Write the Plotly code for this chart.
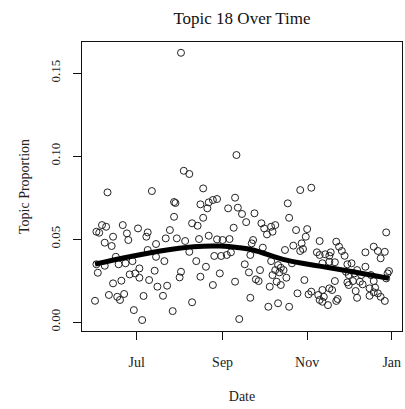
import pandas as pd
import plotly.graph_objects as go

# Day offsets since 1 June (each point = one observation) and topic proportion
day_offset = [
    9, 41, 1, 5, 8, 3, 7, 12, 13, 20, 23, 24, 31, 38, 37, 44, 1, 2, 7, 17, 22, 27, 32, 38, 44, 15,
    13, 19, 25, 29, 32, 43, 39, 45, 0, 10, 16, 21, 18, 35, 28, 34,
    62, 64, 68, 102, 78, 57, 58, 76, 82, 85, 88, 81, 96, 101, 103, 57, 78, 70, 74, 100, 54, 51,
    59, 65, 75, 82, 88, 92, 97, 68, 86, 91, 95, 98, 50, 73, 80, 62, 61, 76, 90, 52, 85, 101, 49,
    70, 56, 104,
    148, 156, 139, 106, 109, 115, 140, 120, 122, 127, 130, 124, 128, 145, 153, 152, 114, 113, 121,
    137, 143, 149, 150, 148, 160, 112, 108, 127, 132, 134, 133, 136, 130, 142, 119, 111, 116, 118,
    128, 138, 131, 126, 134, 151, 146, 154, 156, 161, 112, 125, 132, 140,
    210, 162, 174, 176, 195, 201, 204, 209, 206, 162, 166, 170, 169, 178, 180, 173, 169, 164, 182,
    185, 195, 189, 212, 181, 183, 187, 192, 199, 173, 182, 186, 191, 193, 201, 210, 211, 169, 171,
    164, 183, 198, 202, 201, 204, 188, 165, 162, 175, 174, 189, 168, 164, 198, 206, 209,
]
proportion = [
    0.0781, 0.0789, 0.0544, 0.0584, 0.0574, 0.0538, 0.0478, 0.0458, 0.0514, 0.0584, 0.0534, 0.0494,
    0.0564, 0.0540, 0.0514, 0.0470, 0.0348, 0.0297, 0.0339, 0.0348, 0.0354, 0.0367, 0.0323, 0.0434,
    0.0393, 0.0393, 0.0233, 0.0249, 0.0287, 0.0293, 0.0267, 0.0309, 0.0253, 0.0213, 0.0128, 0.0163,
    0.0152, 0.0169, 0.0133, 0.0157, 0.0072, 0.0012,
    0.1622, 0.0911, 0.0892, 0.1006, 0.0805, 0.0723, 0.0717, 0.0709, 0.0721, 0.0735, 0.0741, 0.0685,
    0.0685, 0.0749, 0.0689, 0.0634, 0.0628, 0.0595, 0.0580, 0.0568, 0.0554, 0.0504, 0.0504, 0.0488,
    0.0500, 0.0520, 0.0498, 0.0494, 0.0500, 0.0423, 0.0398, 0.0398, 0.0404, 0.0420, 0.0367, 0.0367,
    0.0333, 0.0303, 0.0269, 0.0273, 0.0293, 0.0219, 0.0223, 0.0243, 0.0158, 0.0119, 0.0066, 0.0018,
    0.0795, 0.0809, 0.0715, 0.0651, 0.0602, 0.0655, 0.0628, 0.0595, 0.0564, 0.0574, 0.0584, 0.0528,
    0.0544, 0.0554, 0.0560, 0.0514, 0.0494, 0.0474, 0.0448, 0.0434, 0.0460, 0.0474, 0.0440, 0.0428,
    0.0420, 0.0404, 0.0348, 0.0367, 0.0343, 0.0327, 0.0299, 0.0313, 0.0313, 0.0354, 0.0313, 0.0299,
    0.0257, 0.0247, 0.0283, 0.0267, 0.0243, 0.0213, 0.0223, 0.0253, 0.0173, 0.0167, 0.0183, 0.0163,
    0.0146, 0.0092, 0.0113, 0.0092,
    0.0540, 0.0488, 0.0484, 0.0454, 0.0420, 0.0454, 0.0428, 0.0423, 0.0384, 0.0404, 0.0408, 0.0420,
    0.0399, 0.0428, 0.0399, 0.0360, 0.0363, 0.0354, 0.0348, 0.0354, 0.0333, 0.0313, 0.0307, 0.0303,
    0.0283, 0.0293, 0.0283, 0.0283, 0.0247, 0.0239, 0.0247, 0.0243, 0.0227, 0.0247, 0.0263, 0.0293,
    0.0203, 0.0193, 0.0193, 0.0223, 0.0203, 0.0207, 0.0179, 0.0173, 0.0187, 0.0152, 0.0133, 0.0139,
    0.0127, 0.0146, 0.0102, 0.0122, 0.0158, 0.0152, 0.0127,
]

# Smoothed trend
smooth_day = [0, 23, 47, 71, 90, 104, 114, 138, 162, 186, 212]
smooth_value = [0.0349, 0.0390, 0.0428, 0.0454, 0.0458, 0.0448, 0.0434, 0.0373, 0.0337, 0.0303, 0.0263]

tick_dates = ["2013-07-01", "2013-09-01", "2013-11-01", "2014-01-01"]
tick_labels = ["Jul", "Sep", "Nov", "Jan"]
y_ticks = [0.00, 0.05, 0.10, 0.15]
y_tick_labels = ["0.00", "0.05", "0.10", "0.15"]

base = pd.Timestamp("2013-06-01")
dates = base + pd.to_timedelta(day_offset, unit="D")
smooth_dates = base + pd.to_timedelta(smooth_day, unit="D")

FONT = "Liberation Serif"

fig = go.Figure()
fig.add_trace(go.Scatter(
    x=dates, y=proportion, mode="markers",
    marker=dict(symbol="circle-open", size=7, color="#222", line=dict(width=1, color="#222")),
    showlegend=False, hoverinfo="skip",
))
fig.add_trace(go.Scatter(
    x=smooth_dates, y=smooth_value, mode="lines",
    line=dict(color="black", width=5, shape="spline"),
    showlegend=False, hoverinfo="skip",
))

x_lo = base - pd.Timedelta(days=9.4)
x_hi = base + pd.Timedelta(days=221.4)

fig.update_layout(
    width=405, height=409,
    margin=dict(l=82, r=3, t=42, b=78),
    paper_bgcolor="white", plot_bgcolor="white",
    font=dict(family=FONT, color="#222", size=14),
    title=dict(text="Topic 18 Over Time", x=0.5975, xanchor="center", y=0.955, yanchor="middle",
               font=dict(family=FONT, size=17, color="#111")),
    xaxis=dict(
        range=[x_lo, x_hi], tickmode="array", tickvals=tick_dates, ticktext=tick_labels,
        showgrid=False, zeroline=False, showline=True, linecolor="#111", linewidth=1.2, mirror=True,
        ticks="outside", ticklen=8, tickcolor="#111", tickwidth=1,
        ticklabelstandoff=10,
        tickfont=dict(family=FONT, size=14),
        title=dict(text="Date", standoff=22, font=dict(family=FONT, size=14)),
    ),
    yaxis=dict(
        range=[-0.0054, 0.1687], tickmode="array", tickvals=y_ticks, ticktext=y_tick_labels,
        showgrid=False, zeroline=False, showline=True, linecolor="#111", linewidth=1.2, mirror=True,
        ticks="outside", ticklen=8, tickcolor="#111", tickwidth=1, tickangle=-90,
        ticklabelstandoff=8,
        tickfont=dict(family=FONT, size=13),
        title=dict(text="Topic Proportion", standoff=14, font=dict(family=FONT, size=14)),
    ),
)

fig.write_html(
    "out.html",
    config={"displayModeBar": False},
    post_script="document.body.style.margin='0';document.body.style.overflow='hidden';",
)
